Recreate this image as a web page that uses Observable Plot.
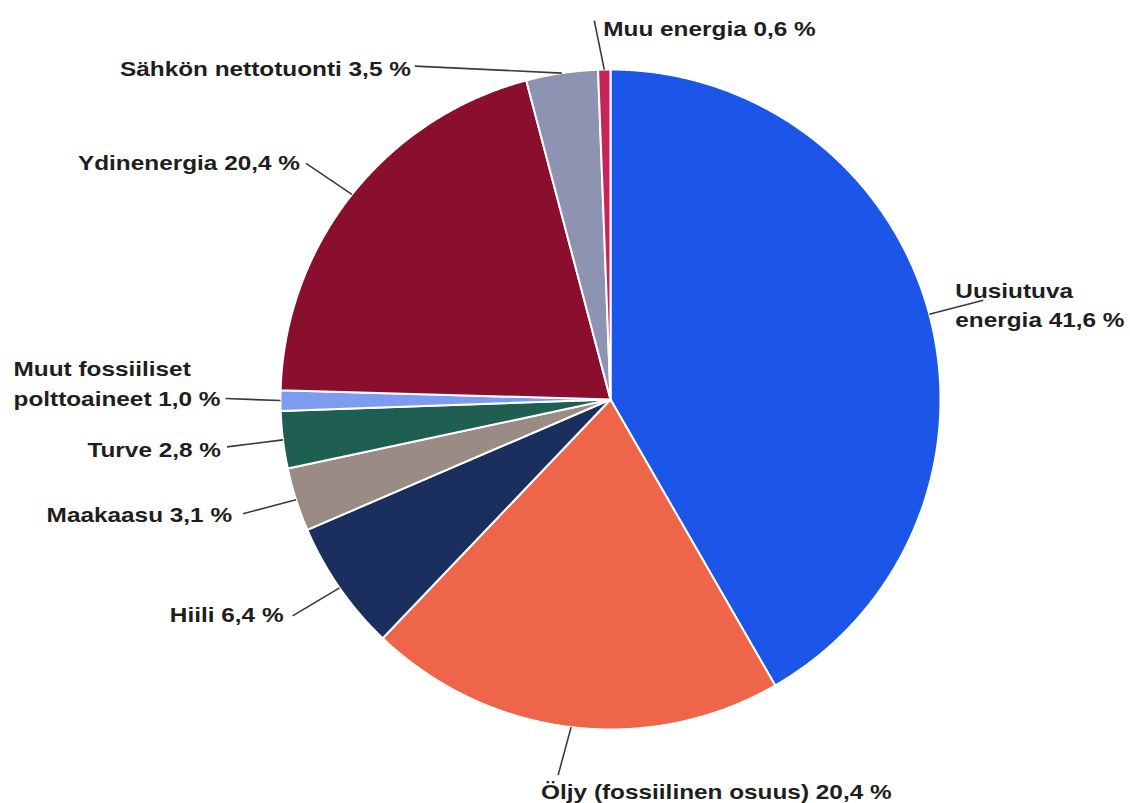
<!DOCTYPE html>
<html><head><meta charset="utf-8">
<script src="https://cdn.jsdelivr.net/npm/d3@7"></script>
<script src="https://cdn.jsdelivr.net/npm/@observablehq/plot@0.6"></script>
<style>body{margin:0;background:#fff;overflow:hidden}</style>
</head><body><div id="chart"></div>
<script>
// ---- data ----
const categories = ["Uusiutuva energia", "Öljy (fossiilinen osuus)", "Hiili", "Maakaasu", "Turve",
  "Muut fossiiliset polttoaineet", "Ydinenergia", "Sähkön nettotuonti", "Muu energia"];
const values = [41.6, 20.4, 6.4, 3.1, 2.8, 1.0, 20.4, 3.5, 0.6];
const labelNames = ["Uusiutuva\nenergia", "Öljy (fossiilinen osuus)", "Hiili", "Maakaasu", "Turve",
  "Muut fossiiliset\npolttoaineet", "Ydinenergia", "Sähkön nettotuonti", "Muu energia"];
const colors = ["#1c56e8", "#ef654a", "#1b2f5e", "#9a8b84", "#1e5f52", "#7d9cf0", "#8a0f2e", "#8e93b1", "#c8245c"];

// ---- layout (not data) ----
const W = 1130, H = 803, CX = 610, CY = 399, R = 330;
const leaderOffsets = [[54,-14],[-13,48],[-47,28],[-53,14],[-56,7],[-55,-2],[-46,-31],[-147,-7],[-10,-49]];
const textOffsets = [[-28,3,"start"],[-17,14,"start"],[-9,-3,"end"],[-11,-1,"end"],[-6,1,"end"],
  [-212,-17,"start"],[-6,-3,"end"],[-4,0,"end"],[9,6.5,"start"]];

const fmt = v => v.toFixed(1).replace(".", ",") + " %";
const arcs = d3.pie().sort(null).value(d => d)(values);

const slicePts = [];
arcs.forEach((a, i) => {
  const n = Math.max(2, Math.ceil((a.endAngle - a.startAngle) / 0.004));
  slicePts.push({name: categories[i], color: colors[i], x: CX, y: CY});
  for (let k = 0; k <= n; k++) {
    const t = a.startAngle + (a.endAngle - a.startAngle) * k / n;
    slicePts.push({name: categories[i], color: colors[i], x: CX + R * Math.sin(t), y: CY - R * Math.cos(t)});
  }
  slicePts.push({name: categories[i], color: colors[i], x: CX, y: CY});
});

const labelRows = arcs.map((a, i) => {
  const m = (a.startAngle + a.endAngle) / 2;
  const x1 = CX + R * Math.sin(m), y1 = CY - R * Math.cos(m);
  const x2 = x1 + leaderOffsets[i][0], y2 = y1 + leaderOffsets[i][1];
  return {x1, y1, x2, y2, tx: x2 + textOffsets[i][0], ty: y2 + textOffsets[i][1],
    anchor: textOffsets[i][2], text: labelNames[i] + " " + fmt(values[i])};
});

const textOpts = {x: "tx", y: "ty", text: "text", fill: "#1e1e1e", fontSize: 21, fontWeight: "bold",
  fontFamily: "Liberation Sans, Arial, sans-serif", lineHeight: 1.4, lineAnchor: "middle"};

const svg = Plot.plot({
  width: W, height: H, margin: 0,
  x: {domain: [0, W], range: [0, W], axis: null},
  y: {domain: [0, H], range: [0, H], axis: null},
  color: {type: "identity"},
  style: {background: "#fff"},
  marks: [
    Plot.line(slicePts, {x: "x", y: "y", z: "name", fill: "color", stroke: "white", strokeWidth: 2, strokeLinejoin: "round"}),
    Plot.link(labelRows, {x1: "x1", y1: "y1", x2: "x2", y2: "y2", stroke: "#3a3a3a", strokeWidth: 1.6}),
    Plot.text(labelRows.filter(d => d.anchor === "start"), {...textOpts, textAnchor: "start"}),
    Plot.text(labelRows.filter(d => d.anchor === "end"), {...textOpts, textAnchor: "end"})
  ]
});
svg.querySelectorAll("text").forEach(t => {
  const tr = t.getAttribute("transform");
  if (tr && tr.includes("translate")) t.setAttribute("transform", tr + " scale(1.16,1)");
});
document.getElementById("chart").appendChild(svg);
</script>
</body></html>
